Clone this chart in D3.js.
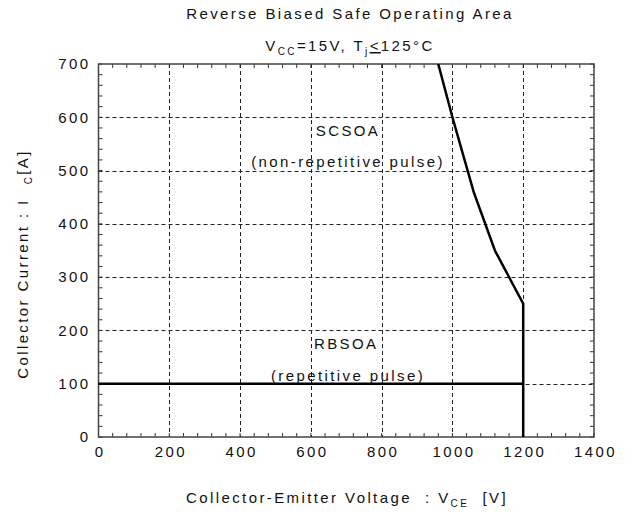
<!DOCTYPE html>
<html>
<head>
<meta charset="utf-8">
<script src="https://cdn.jsdelivr.net/npm/d3@7"></script>
<style>
body { margin: 0; background: #fff; }
svg text { font-family: "Liberation Sans", Arial, sans-serif; fill: #111; letter-spacing: 2.4px; }
</style>
</head>
<body>
<svg id="chart" width="633" height="518"></svg>
<script>
const xTicks = [0, 200, 400, 600, 800, 1000, 1200, 1400];
const yTicks = [0, 100, 200, 300, 400, 500, 600, 700];
// SCSOA boundary (V, A)
const scsoaV = [960, 1000, 1060, 1120, 1200, 1200];
const scsoaI = [700, 600, 460, 350, 250, 0];
// RBSOA boundary (V, A)
const rbsoaV = [0, 1200];
const rbsoaI = [100, 100];

const chart = {
    left: 98.5, right: 594, top: 64, bottom: 437
};

const svg = d3.select('#chart');
const x = d3.scaleLinear().domain([0, 1400]).range([chart.left, chart.right]);
const y = d3.scaleLinear().domain([0, 700]).range([chart.bottom, chart.top]);
const w = chart.right - chart.left;
const h = chart.bottom - chart.top;

// grid
const grid = svg.append('g').attr('stroke', '#222').attr('stroke-width', 1).attr('stroke-dasharray', '4,3');
grid.selectAll('.gx').data(xTicks.slice(1, -1)).enter().append('line')
    .attr('x1', d => Math.round(x(d)) + 0.5).attr('x2', d => Math.round(x(d)) + 0.5)
    .attr('y1', chart.top).attr('y2', chart.bottom);
grid.selectAll('.gy').data(yTicks.slice(1, -1)).enter().append('line')
    .attr('y1', d => Math.round(y(d)) + 0.5).attr('y2', d => Math.round(y(d)) + 0.5)
    .attr('x1', chart.left).attr('x2', chart.right);

// minor ticks, inward on all four sides
const xMinor = d3.range(0, 1401, 40);
const yMinor = d3.range(0, 701, 20);
const tickLen = 4;
const ticks = svg.append('g').attr('stroke', '#333').attr('stroke-width', 1);
ticks.selectAll('.tb').data(xMinor).enter().append('line')
    .attr('x1', d => x(d)).attr('x2', d => x(d))
    .attr('y1', chart.bottom).attr('y2', chart.bottom - tickLen);
ticks.selectAll('.tt').data(xMinor).enter().append('line')
    .attr('x1', d => x(d)).attr('x2', d => x(d))
    .attr('y1', chart.top).attr('y2', chart.top + tickLen);
ticks.selectAll('.tl').data(yMinor).enter().append('line')
    .attr('y1', d => y(d)).attr('y2', d => y(d))
    .attr('x1', chart.left).attr('x2', chart.left + tickLen);
ticks.selectAll('.tr').data(yMinor).enter().append('line')
    .attr('y1', d => y(d)).attr('y2', d => y(d))
    .attr('x1', chart.right).attr('x2', chart.right - tickLen);

// frame
svg.append('rect').attr('x', chart.left).attr('y', chart.top).attr('width', w).attr('height', h)
    .attr('fill', 'none').attr('stroke', '#444').attr('stroke-width', 1.5);

// axis labels via d3 axes (ticks hidden)
const xAxis = svg.append('g').attr('transform', `translate(1 ${chart.bottom})`)
    .call(d3.axisBottom(x).tickValues(xTicks).tickSize(0).tickPadding(9).tickFormat(d3.format('d')));
const yAxis = svg.append('g').attr('transform', `translate(${chart.left} 0)`)
    .call(d3.axisLeft(y).tickValues(yTicks).tickSize(0).tickPadding(8).tickFormat(d3.format('d')));
[xAxis, yAxis].forEach(a => {
    a.select('.domain').remove();
    a.selectAll('text').attr('font-size', 15).attr('font-family', '"Liberation Sans", Arial, sans-serif').attr('fill', '#111');
});

// curves
const line = d3.line().x(d => x(d[0])).y(d => y(d[1]));
svg.append('path').attr('d', line(d3.zip(scsoaV, scsoaI)))
    .attr('fill', 'none').attr('stroke', '#000').attr('stroke-width', 2.5);
svg.append('path').attr('d', line(d3.zip(rbsoaV, rbsoaI)))
    .attr('fill', 'none').attr('stroke', '#000').attr('stroke-width', 2.5);

// annotations
const ann = (txt, vx, vy) => svg.append('text').attr('x', x(vx)).attr('y', y(vy))
    .attr('text-anchor', 'middle').attr('font-size', 15).text(txt);
ann('SCSOA', 705, 565);
ann('(non-repetitive pulse)', 705, 507);
ann('RBSOA', 700, 165);
ann('(repetitive pulse)', 705, 105);

// titles
svg.append('text').attr('x', 350).attr('y', 19).attr('text-anchor', 'middle')
    .attr('font-size', 15).text('Reverse Biased Safe Operating Area');
const sub = svg.append('text').attr('x', 350).attr('y', 51).attr('text-anchor', 'middle').attr('font-size', 15);
sub.append('tspan').text('V');
sub.append('tspan').attr('font-size', 10).attr('dy', 4).text('CC');
sub.append('tspan').attr('dy', -4).text('=15V, T');
sub.append('tspan').attr('font-size', 10).attr('dy', 4).text('j');
sub.append('tspan').attr('dy', -4).attr('text-decoration', 'underline').text('<');
sub.append('tspan').text('125°C');

const xl = svg.append('text').attr('x', 347).attr('y', 503).attr('text-anchor', 'middle').attr('font-size', 15);
xl.append('tspan').text('Collector-Emitter Voltage\u00a0 : V');
xl.append('tspan').attr('font-size', 10).attr('dy', 4).text('CE');
xl.append('tspan').attr('dy', -4).text('\u00a0 [V]');

const yl = svg.append('text').attr('transform', 'translate(28 264) rotate(-90)')
    .attr('text-anchor', 'middle').attr('font-size', 15);
yl.append('tspan').text('Collector Current : I');
yl.append('tspan').attr('font-size', 10).attr('dy', 4).attr('dx', 14).text('C');
yl.append('tspan').attr('dy', -4).text('[A]');
</script>
</body>
</html>
